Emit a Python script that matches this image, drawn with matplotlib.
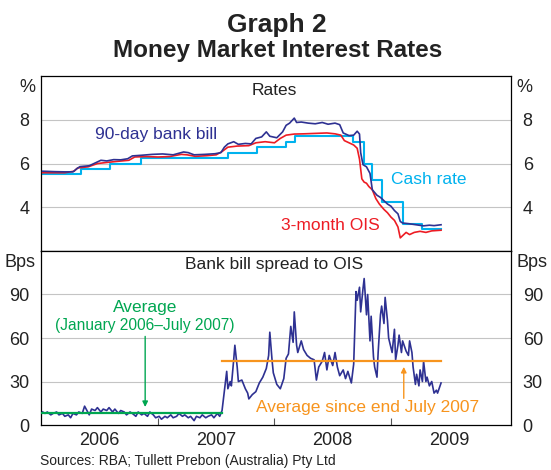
import numpy as np
import matplotlib.pyplot as plt
from matplotlib.ticker import FixedLocator, NullFormatter, FixedFormatter

plt.rcParams["font.family"] = ["Liberation Sans", "DejaVu Sans"]

# ---- data (decimal years) ----
bill_t = [2006.01, 2006.11, 2006.20, 2006.27, 2006.30, 2006.33, 2006.41, 2006.47, 2006.51, 2006.56,
          2006.62, 2006.68, 2006.74, 2006.78, 2006.86, 2006.95, 2007.04, 2007.13, 2007.22, 2007.26,
          2007.31, 2007.40, 2007.49, 2007.54, 2007.57, 2007.60, 2007.65, 2007.69, 2007.75, 2007.80,
          2007.84, 2007.89, 2007.93, 2007.96, 2008.02, 2008.07, 2008.10, 2008.13, 2008.17, 2008.19,
          2008.23, 2008.29, 2008.35, 2008.41, 2008.46, 2008.52, 2008.56, 2008.59, 2008.64, 2008.68,
          2008.71, 2008.73, 2008.74, 2008.76, 2008.79, 2008.82, 2008.84, 2008.88, 2008.91, 2008.94,
          2008.97, 2009.00, 2009.03, 2009.06, 2009.08, 2009.10, 2009.15, 2009.19, 2009.24, 2009.28,
          2009.33, 2009.37, 2009.43]
bill_v = [5.65, 5.63, 5.62, 5.62, 5.75, 5.86, 5.90, 6.05, 6.15, 6.12,
          6.18, 6.17, 6.22, 6.35, 6.38, 6.42, 6.44, 6.40, 6.53, 6.50,
          6.40, 6.42, 6.45, 6.50, 6.75, 6.90, 7.00, 6.88, 6.92, 6.90,
          7.15, 7.22, 7.45, 7.25, 7.18, 7.45, 7.75, 7.85, 8.08, 7.88,
          7.90, 7.85, 7.82, 7.88, 7.80, 7.85, 7.78, 7.40, 7.28, 7.30,
          7.48, 7.35, 6.50, 5.95, 5.85, 5.55, 4.80, 4.55, 4.45, 4.30,
          4.15, 4.05, 3.85, 3.70, 3.35, 3.28, 3.25, 3.22, 3.18, 3.15,
          3.18, 3.16, 3.20]

ois_t = [2006.01, 2006.20, 2006.28, 2006.31, 2006.40, 2006.48, 2006.56, 2006.65, 2006.75, 2006.80,
         2006.90, 2007.00, 2007.10, 2007.20, 2007.25, 2007.32, 2007.42, 2007.50, 2007.55, 2007.60,
         2007.68, 2007.78, 2007.84, 2007.92, 2008.00, 2008.05, 2008.10, 2008.17, 2008.25, 2008.35,
         2008.45, 2008.52, 2008.57, 2008.60, 2008.64, 2008.68, 2008.71, 2008.73, 2008.75, 2008.77,
         2008.79, 2008.81, 2008.84, 2008.87, 2008.90, 2008.94, 2008.97, 2009.00, 2009.03, 2009.06,
         2009.08, 2009.10, 2009.13, 2009.16, 2009.20, 2009.25, 2009.30, 2009.35, 2009.43]
ois_v = [5.58, 5.58, 5.65, 5.80, 5.85, 6.00, 6.05, 6.10, 6.15, 6.30,
         6.32, 6.30, 6.32, 6.42, 6.40, 6.33, 6.36, 6.40, 6.55, 6.75,
         6.80, 6.82, 6.95, 7.00, 6.95, 7.15, 7.30, 7.35, 7.36, 7.38,
         7.40, 7.36, 7.30, 7.05, 6.95, 6.85, 6.70, 6.20, 5.30, 5.15,
         5.10, 4.95, 4.80, 4.40, 4.15, 3.90, 3.75, 3.55, 3.40, 3.10,
         2.60, 2.70, 2.85, 2.75, 2.85, 2.90, 2.85, 2.92, 2.95]

cash_t = [2006.00, 2006.34, 2006.59, 2006.85, 2007.60, 2007.85, 2008.10, 2008.18,
          2008.67, 2008.77, 2008.84, 2008.92, 2009.10, 2009.27, 2009.43]
cash_v = [5.50, 5.75, 6.00, 6.25, 6.50, 6.75, 7.00, 7.25,
          7.00, 6.00, 5.25, 4.25, 3.25, 3.00, 3.00]

spread_t = [2006.01, 2006.03, 2006.05, 2006.08, 2006.10, 2006.13, 2006.15, 2006.18, 2006.20, 2006.23,
            2006.25, 2006.27, 2006.30, 2006.32, 2006.35, 2006.37, 2006.39, 2006.41, 2006.43, 2006.46,
            2006.48, 2006.51, 2006.53, 2006.56, 2006.58, 2006.61, 2006.63, 2006.66, 2006.68, 2006.71,
            2006.73, 2006.76, 2006.78, 2006.81, 2006.83, 2006.86, 2006.88, 2006.91, 2006.93, 2006.96,
            2006.98, 2007.01, 2007.03, 2007.06, 2007.08, 2007.11, 2007.13, 2007.16, 2007.18, 2007.21,
            2007.23, 2007.26, 2007.28, 2007.31, 2007.33, 2007.36, 2007.38, 2007.41, 2007.43, 2007.46,
            2007.48, 2007.51, 2007.53, 2007.55,
            2007.59, 2007.60, 2007.62, 2007.63, 2007.65, 2007.66, 2007.68, 2007.69, 2007.72, 2007.75,
            2007.77, 2007.78, 2007.81, 2007.84, 2007.87, 2007.90, 2007.93, 2007.95, 2007.96, 2007.98,
            2007.99, 2008.02, 2008.05, 2008.08, 2008.10, 2008.12, 2008.14, 2008.16, 2008.17, 2008.19,
            2008.20, 2008.23, 2008.25, 2008.28, 2008.31, 2008.34, 2008.36, 2008.38, 2008.41, 2008.43,
            2008.45, 2008.47, 2008.50, 2008.52, 2008.54, 2008.56, 2008.59, 2008.61, 2008.63, 2008.66,
            2008.68, 2008.70, 2008.71, 2008.73, 2008.74, 2008.76, 2008.77, 2008.79, 2008.80, 2008.82,
            2008.83, 2008.85, 2008.86, 2008.88, 2008.89, 2008.91, 2008.92, 2008.94, 2008.95, 2008.97,
            2008.98, 2009.01, 2009.03, 2009.04, 2009.06, 2009.07, 2009.09, 2009.10, 2009.13, 2009.15,
            2009.16, 2009.18, 2009.19, 2009.21, 2009.22, 2009.24, 2009.25, 2009.27, 2009.28, 2009.30,
            2009.31, 2009.33, 2009.35, 2009.37, 2009.39, 2009.40, 2009.43]
spread_v = [9, 8, 9, 7, 8, 9, 7, 8, 6, 7,
            5, 8, 7, 9, 8, 13, 10, 7, 11, 10,
            12, 9, 11, 10, 12, 9, 11, 8, 10, 9,
            7, 9, 8, 6, 9, 7, 8, 6, 9, 7,
            5, 6, 4, 6, 5, 7, 5, 6, 8, 6,
            7, 5, 6, 3, 6, 5, 7, 5, 6, 7,
            5, 8, 6, 10,
            37, 25, 30, 27, 45, 55, 40, 30, 31, 25,
            22, 18, 21, 23, 29, 33, 39, 48, 64, 44,
            36, 28, 25, 32, 46, 49, 68, 57, 78, 55,
            50, 58, 52, 48, 46, 45, 31, 40, 44, 50,
            38, 48, 41, 50, 40, 34, 38, 32, 37, 29,
            42, 92, 86, 95, 78, 94, 101, 76, 90, 58,
            75, 47, 40, 33, 50, 76, 82, 70, 88, 72,
            60, 50, 66, 45, 55, 62, 50, 58, 51, 48,
            58, 50, 40, 28, 35, 27, 38, 30, 44, 30,
            33, 27, 30, 22, 24, 22, 29]

avg_pre_t = [2006.00, 2007.55]
avg_pre_v = [8, 8]
avg_post_t = [2007.55, 2009.43]
avg_post_v = [44, 44]

years = [2006, 2007, 2008, 2009]

NAVY = "#2E3192"
CYAN = "#00B2EE"
RED = "#ED1C24"
GREEN = "#00A651"
ORANGE = "#F7941D"
GRID = "#C4C4C4"
TXT = "#222222"
FS = 13

fig = plt.figure(figsize=(5.51, 4.70), dpi=100, facecolor="white")
L, W = 0.0753, 0.852
ax1 = fig.add_axes([L, 0.466, W, 0.372])
ax2 = fig.add_axes([L, 0.0957, W, 0.3703])

for ax in (ax1, ax2):
    ax.set_xlim(2006.0, 2010.03)
    for sp in ax.spines.values():
        sp.set_color("black")
        sp.set_linewidth(0.9)
    ax.tick_params(axis="y", left=False, right=False, labelleft=True, labelright=True,
                   labelsize=FS, colors=TXT, pad=5)

# top panel
ax1.set_ylim(2, 10)
ax1.set_yticks([4, 6, 8])
for g in [4, 6, 8]:
    ax1.axhline(g, color=GRID, lw=0.8, zorder=0)
ax1.set_xticks([])
ax1.plot(cash_t, cash_v, color=CYAN, lw=1.5, drawstyle="steps-post", zorder=2)
ax1.plot(ois_t, ois_v, color=RED, lw=1.2, zorder=3)
ax1.plot(bill_t, bill_v, color=NAVY, lw=1.2, zorder=4)
ax1.text(2008.0, 9.35, "Rates", ha="center", va="center", fontsize=12.5, color=TXT)
ax1.text(2006.46, 7.33, "90-day bank bill", ha="left", va="center", fontsize=12.5, color=NAVY)
ax1.text(2009.0, 5.28, "Cash rate", ha="left", va="center", fontsize=12.5, color=CYAN)
ax1.text(2008.06, 3.15, "3-month OIS", ha="left", va="center", fontsize=12.5, color=RED)

# bottom panel
ax2.set_ylim(0, 120)
ax2.set_yticks([0, 30, 60, 90])
for g in [30, 60, 90]:
    ax2.axhline(g, color=GRID, lw=0.8, zorder=0)
ax2.xaxis.set_major_locator(FixedLocator([2007, 2008, 2009]))
ax2.xaxis.set_major_formatter(NullFormatter())
ax2.xaxis.set_minor_locator(FixedLocator([y + 0.5 for y in years]))
ax2.xaxis.set_minor_formatter(FixedFormatter([str(y) for y in years]))
ax2.tick_params(axis="x", which="major", direction="in", length=5, color="#555555", width=0.8)
ax2.tick_params(axis="x", which="minor", length=0, labelsize=FS, colors=TXT, pad=5)

ax2.plot(spread_t, spread_v, color=NAVY, lw=1.2, zorder=3)
ax2.plot(avg_pre_t, avg_pre_v, color=GREEN, lw=1.6, zorder=4)
ax2.plot(avg_post_t, avg_post_v, color=ORANGE, lw=1.6, zorder=4)
ax2.text(2008.0, 111, "Bank bill spread to OIS", ha="center", va="center", fontsize=12.5, color=TXT)
ax2.text(2006.89, 81, "Average", ha="center", va="center", fontsize=12.5, color=GREEN)
ax2.text(2006.89, 68.5, "(January 2006\u2013July 2007)", ha="center", va="center", fontsize=11.2, color=GREEN)
ax2.annotate("", xy=(2006.89, 10.5), xytext=(2006.89, 63),
             arrowprops=dict(arrowstyle="-|>", color=GREEN, lw=1.0, mutation_scale=8))
ax2.text(2008.80, 12, "Average since end July 2007", ha="center", va="center", fontsize=12.5, color=ORANGE)
ax2.annotate("", xy=(2009.11, 42), xytext=(2009.11, 16.5),
             arrowprops=dict(arrowstyle="-|>", color=ORANGE, lw=1.0, mutation_scale=8))

# unit labels
for x, ha in [(-0.012, "right"), (1.012, "left")]:
    ax1.text(x, 0.985, "%", transform=ax1.transAxes, ha=ha, va="top", fontsize=FS, color=TXT)
    ax2.text(x, 0.985, "Bps", transform=ax2.transAxes, ha=ha, va="top", fontsize=FS, color=TXT)

fig.text(0.503, 0.947, "Graph 2", ha="center", va="center", fontsize=19, fontweight="bold", color=TXT)
fig.text(0.503, 0.893, "Money Market Interest Rates", ha="center", va="center", fontsize=17.5,
         fontweight="bold", color=TXT)
fig.text(0.073, 0.004, "Sources: RBA; Tullett Prebon (Australia) Pty Ltd", ha="left", va="bottom",
         fontsize=10, color=TXT)

fig.savefig("out.png", dpi=100, facecolor="white")
